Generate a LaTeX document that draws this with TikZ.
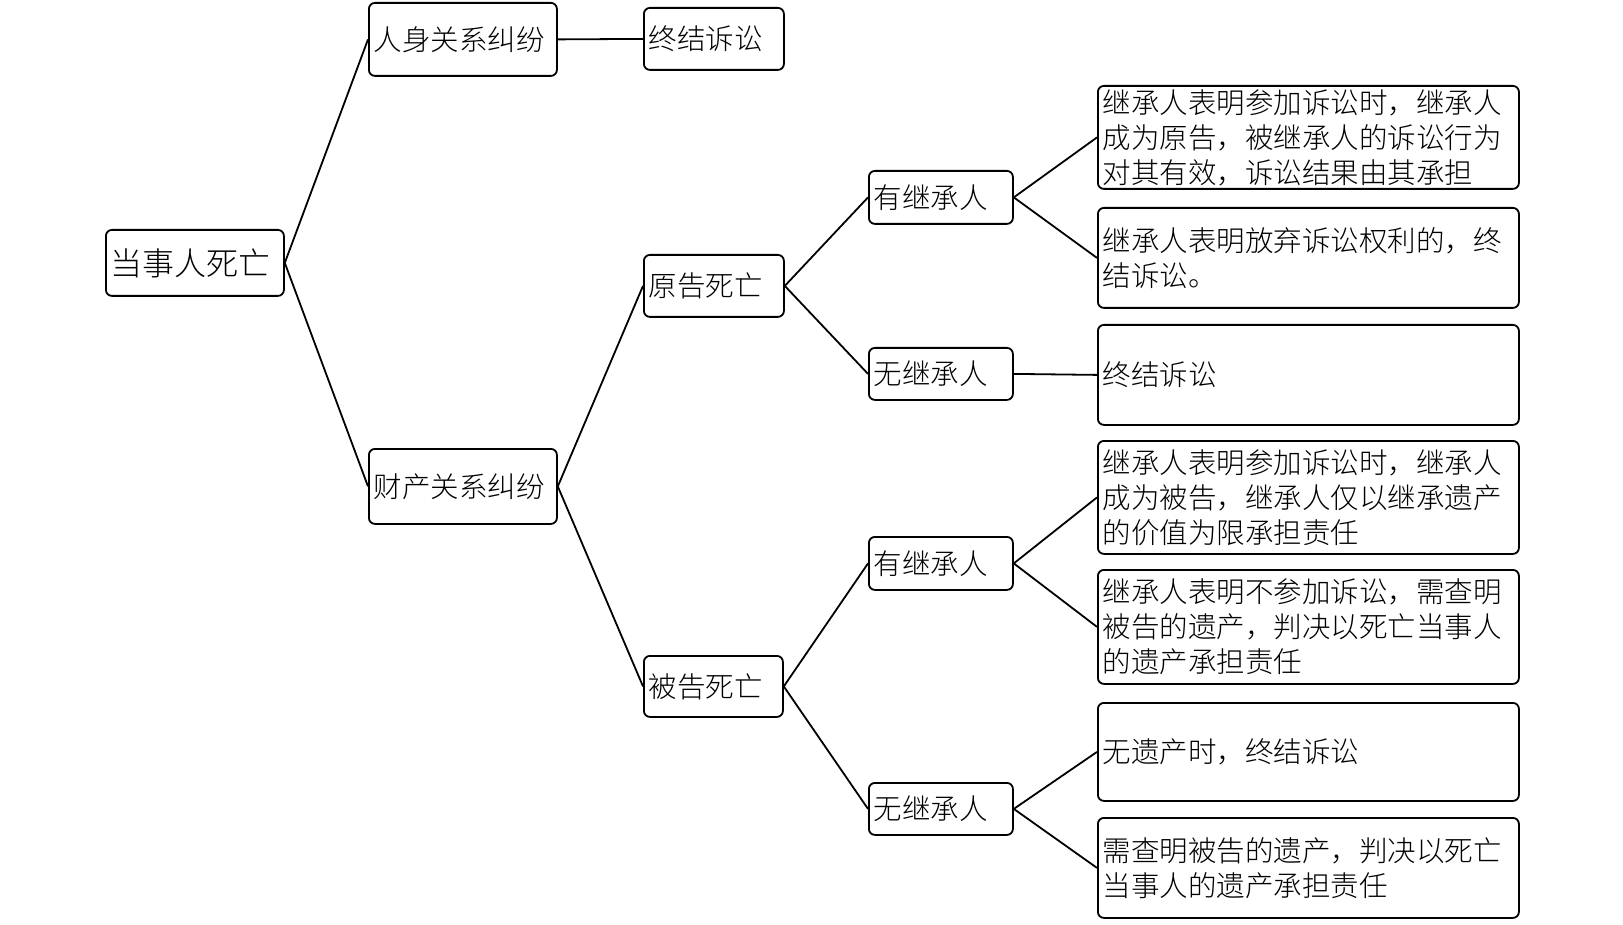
\documentclass[tikz,border=0pt]{standalone}
\usepackage{fontspec}
\IfFontExistsTF{Noto Sans CJK SC Light}{\setmainfont{Noto Sans CJK SC Light}}{\setmainfont{Noto Sans CJK SC}}
\tikzset{
  box/.style={draw=black, line width=1.8pt, rounded corners=6pt, anchor=north west,
    inner xsep=5pt, inner ysep=0pt, align=left, fill=white,
    font=\fontsize{28.5}{35}\selectfont},
  rootbox/.style={box, font=\fontsize{32}{38}\selectfont},
  conn/.style={draw=black, line width=1.8pt}
}
\newcommand\mybx[7][box]{%
  \pgfmathsetmacro\bh{#6-#4}%
  \pgfmathsetmacro\tw{#5-#3-10}%
  \node[#1, minimum height=\bh pt, text width=\tw pt] (#2) at (#3,#4) {#7};}
\begin{document}
\begin{tikzpicture}[x=1pt,y=-1pt]
\useasboundingbox[fill=white] (0,0) rectangle (1623,925);
\mybx[rootbox]{root}{105}{229}{283}{295}{当事人死亡}
\mybx{ren}{368}{2}{556}{75}{人身关系纠纷}
\mybx{zja}{643}{7}{783}{69}{终结诉讼}
\mybx{cai}{368}{448}{556}{523}{财产关系纠纷}
\mybx{yuan}{643}{254}{783}{316}{原告死亡}
\mybx{bei}{643}{655}{782}{716}{被告死亡}
\mybx{ya}{868}{170}{1012}{223}{有继承人}
\mybx{wa}{868}{347}{1012}{399}{无继承人}
\mybx{yb}{868}{536}{1012}{589}{有继承人}
\mybx{wb}{868}{782}{1012}{834}{无继承人}
\mybx{aa}{1097}{85}{1518}{188}{继承人表明参加诉讼时，继承人\\成为原告，被继承人的诉讼行为\\对其有效，诉讼结果由其承担}
\mybx{ab}{1097}{207}{1518}{307}{继承人表明放弃诉讼权利的，终\\结诉讼。}
\mybx{ac}{1097}{324}{1518}{424}{终结诉讼}
\mybx{ba}{1097}{440}{1518}{553}{继承人表明参加诉讼时，继承人\\成为被告，继承人仅以继承遗产\\的价值为限承担责任}
\mybx{bb}{1097}{569}{1518}{683}{继承人表明不参加诉讼，需查明\\被告的遗产，判决以死亡当事人\\的遗产承担责任}
\mybx{bc}{1097}{702}{1518}{800}{无遗产时，终结诉讼}
\mybx{bd}{1097}{817}{1518}{917}{需查明被告的遗产，判决以死亡\\当事人的遗产承担责任}
\draw[conn] (root.east) -- (ren.west);
\draw[conn] (root.east) -- (cai.west);
\draw[conn] (ren.east) -- (zja.west);
\draw[conn] (cai.east) -- (yuan.west);
\draw[conn] (cai.east) -- (bei.west);
\draw[conn] (yuan.east) -- (ya.west);
\draw[conn] (yuan.east) -- (wa.west);
\draw[conn] (bei.east) -- (yb.west);
\draw[conn] (bei.east) -- (wb.west);
\draw[conn] (ya.east) -- (aa.west);
\draw[conn] (ya.east) -- (ab.west);
\draw[conn] (wa.east) -- (ac.west);
\draw[conn] (yb.east) -- (ba.west);
\draw[conn] (yb.east) -- (bb.west);
\draw[conn] (wb.east) -- (bc.west);
\draw[conn] (wb.east) -- (bd.west);
\end{tikzpicture}
\end{document}
